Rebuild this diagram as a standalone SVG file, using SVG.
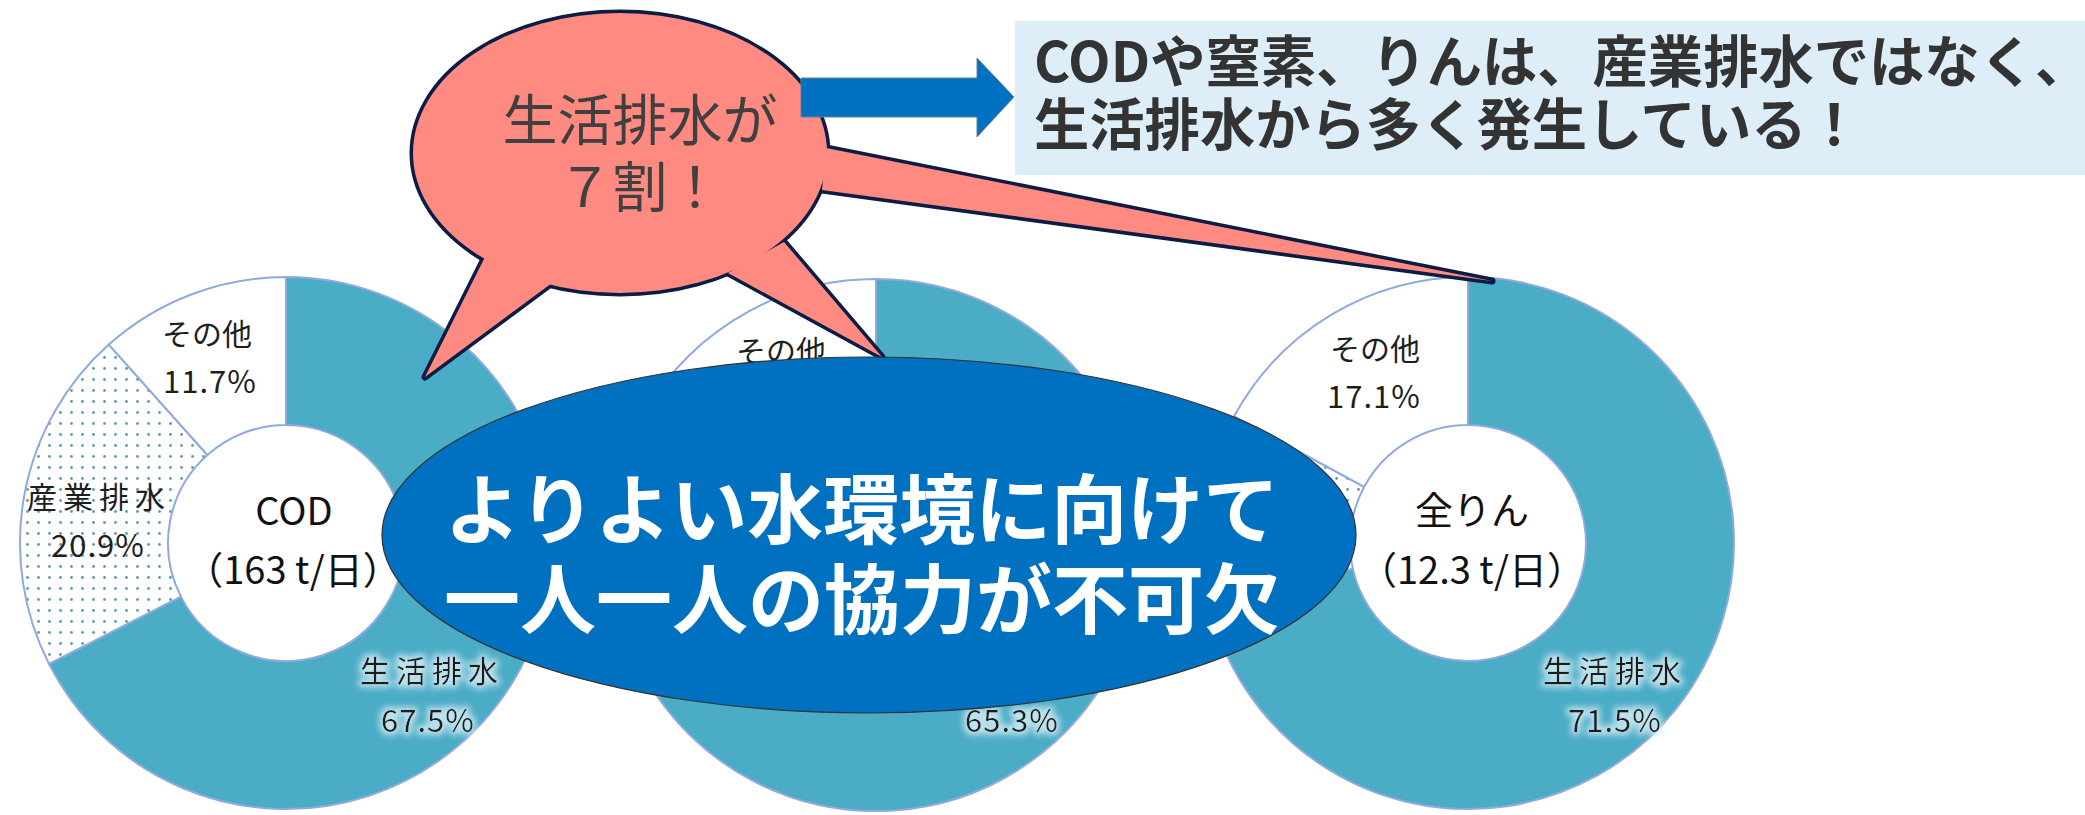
<svg xmlns="http://www.w3.org/2000/svg" width="2085" height="815" viewBox="0 0 2085 815">
<defs>
<style>
.seg{stroke:#8FAADC;stroke-width:2}
.teal{fill:#4BACC6}
.white{fill:#FFFFFF}
.dots{fill:url(#dotpat)}
.lbl{font-family:"Noto Sans CJK JP","Noto Sans",sans-serif;font-size:30px;fill:#1E1E1E;text-anchor:middle}
.pct{font-family:"Noto Sans CJK JP","Noto Sans",sans-serif;font-size:31px;fill:#1E1E1E;text-anchor:middle;letter-spacing:1px}
.ctr{font-family:"Noto Sans CJK JP","Noto Sans",sans-serif;font-size:38px;fill:#111;text-anchor:middle}
.bubtxt{font-family:"Noto Sans CJK JP","Noto Sans",sans-serif;font-size:55px;fill:#404040;text-anchor:middle}
.big{font-family:"Noto Sans CJK JP","Noto Sans",sans-serif;font-size:76px;font-weight:700;fill:#FFFFFF;text-anchor:middle}
.note{font-family:"Noto Sans CJK JP","Noto Sans",sans-serif;font-size:55.3px;font-weight:700;fill:#333333}
.bubS{fill:#FF8A82;stroke:#0B1C45;stroke-width:7;stroke-linejoin:round}
.bubF{fill:#FF8A82}
</style>
<pattern id="dotpat" width="11" height="11" patternUnits="userSpaceOnUse">
<rect width="11" height="11" fill="#FFFFFF"/>
<circle cx="5.5" cy="5.5" r="1.4" fill="#5B9DB0"/>
</pattern>
<filter id="glow" x="-20%" y="-40%" width="140%" height="180%">
<feMorphology in="SourceAlpha" operator="dilate" radius="3" result="d"/>
<feGaussianBlur in="d" stdDeviation="3" result="b"/>
<feFlood flood-color="#D2ECF4" flood-opacity="0.85"/>
<feComposite in2="b" operator="in" result="g"/>
<feMerge><feMergeNode in="g"/><feMergeNode in="SourceGraphic"/></feMerge>
</filter>
</defs>
<rect width="2085" height="815" fill="#FFFFFF"/>

<g id="donut-cod">
<path class="seg teal" d="M286 277 A266 266 0 1 1 49.0 663.8 L180.9 596.6 A118 118 0 1 0 286 425 Z"/>
<path class="seg dots" d="M49.0 663.8 A266 266 0 0 1 108.8 344.6 L207.4 455.0 A118 118 0 0 0 180.9 596.6 Z"/>
<path class="seg white" d="M108.8 344.6 A266 266 0 0 1 286 277 L286 425 A118 118 0 0 0 207.4 455.0 Z"/>
<text class="lbl" x="207" y="345">その他</text>
<text class="pct" x="210" y="393">11.7%</text>
<text class="lbl" x="99" y="508" letter-spacing="6">産業排水</text>
<text class="pct" x="98" y="557">20.9%</text>
<text class="ctr" x="294" y="525">COD</text>
<text class="ctr" x="293" y="584" font-size="35">（163 t/日）</text>
<g filter="url(#glow)">
<text class="lbl" x="432" y="682" letter-spacing="6">生活排水</text>
<text class="pct" x="428" y="732">67.5%</text>
</g>
</g>

<g id="donut-n">
<path class="seg teal" d="M876 279 A266 266 0 1 1 657.9 697.3 L779.2 612.5 A118 118 0 1 0 876 427 Z"/>
<path class="seg dots" d="M657.9 697.3 A266 266 0 0 1 635.3 431.7 L769.2 494.8 A118 118 0 0 0 779.2 612.5 Z"/>
<path class="seg white" d="M635.3 431.7 A266 266 0 0 1 876 279 L876 427 A118 118 0 0 0 769.2 494.8 Z"/>
<text class="lbl" x="781" y="362">その他</text>
<g filter="url(#glow)">
<text class="pct" x="1012" y="732">65.3%</text>
</g>
</g>

<g id="donut-p">
<path class="seg teal" d="M1468 277 A266 266 0 1 1 1208.4 601.0 L1352.8 568.7 A118 118 0 1 0 1468 425 Z"/>
<path class="seg dots" d="M1208.4 601.0 A266 266 0 0 1 1234.1 416.3 L1364.2 486.8 A118 118 0 0 0 1352.8 568.7 Z"/>
<path class="seg white" d="M1234.1 416.3 A266 266 0 0 1 1468 277 L1468 425 A118 118 0 0 0 1364.2 486.8 Z"/>
<text class="lbl" x="1375" y="360">その他</text>
<text class="pct" x="1374" y="408">17.1%</text>
<text class="ctr" x="1472" y="524">全りん</text>
<text class="ctr" x="1472" y="584" font-size="35">（12.3 t/日）</text>
<g filter="url(#glow)">
<text class="lbl" x="1615" y="682" letter-spacing="6">生活排水</text>
<text class="pct" x="1615" y="732">71.5%</text>
</g>
</g>

<g id="bubble">
<g>
<ellipse class="bubS" cx="620" cy="153" rx="207" ry="140"/>
<polygon class="bubS" points="485,257 552,283 425,377"/>
<polygon class="bubS" points="728,273 784,242 882,357"/>
<polygon class="bubS" points="826,148 822,190 1492,281"/>
</g>
<g>
<ellipse class="bubF" cx="620" cy="153" rx="207" ry="140"/>
<polygon class="bubF" points="485,257 552,283 425,377"/>
<polygon class="bubF" points="728,273 784,242 882,357"/>
<polygon class="bubF" points="826,148 822,190 1492,281"/>
</g>
<text class="bubtxt" x="640" y="140">生活排水が</text>
<text class="bubtxt" x="640" y="207">７割！</text>
</g>

<g id="connectors">
<polygon points="801,78 977,78 977,58 1014,97 977,137 977,117 801,117" fill="#0070C0" stroke="#6F7F8F" stroke-width="1"/>
</g>

<g id="message">
<ellipse cx="869" cy="535" rx="487" ry="178" fill="#0070C0" stroke="#333333" stroke-width="1.2"/>
<text class="big" x="862" y="538">よりよい水環境に向けて</text>
<text class="big" x="862" y="628">一人一人の協力が不可欠</text>
</g>

<g id="note">
<rect x="1015" y="21" width="1070" height="154" fill="#DEEEF8"/>
<text class="note" x="1034" y="82">CODや窒素、りんは、産業排水ではなく、</text>
<text class="note" x="1034" y="145">生活排水から多く発生している！</text>
</g>
</svg>
